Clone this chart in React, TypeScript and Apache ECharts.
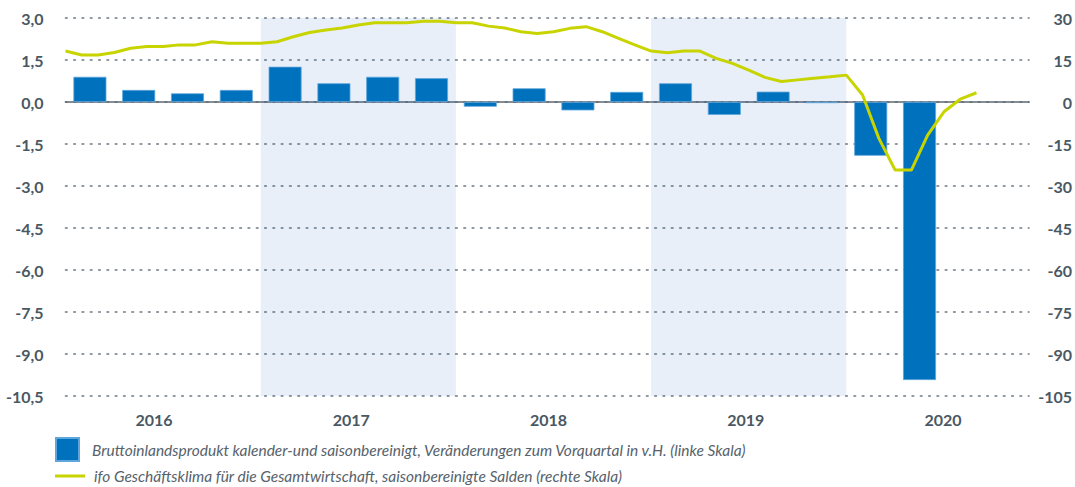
import React, { useEffect, useRef } from "react";
import * as echarts from "echarts";

const yearLabels = ["2016", "2017", "2018", "2019", "2020"];
const shadedYearIdx = [1, 3];
const gdpQuarterly = [
  0.9, 0.43, 0.31, 0.43,
  1.26, 0.67, 0.9, 0.85,
  -0.17, 0.49, -0.3, 0.36,
  0.67, -0.46, 0.37, -0.04,
  -1.92, -9.93,
];
const ifoMonthly = [
  18.2, 16.8, 16.8, 17.7, 19.2, 19.8, 19.8, 20.4, 20.4, 21.5, 21.0, 21.0,
  21.0, 21.5, 23.3, 24.8, 25.7, 26.4, 27.5, 28.3, 28.3, 28.3, 28.8, 28.8,
  28.3, 28.3, 27.1, 26.4, 25.1, 24.5, 25.1, 26.3, 26.9, 25.1, 22.7, 20.4,
  18.2, 17.6, 18.2, 18.2, 15.6, 13.8, 11.4, 8.8, 7.3, 7.9, 8.5, 9.0,
  9.6, 2.5, -13.0, -24.3, -24.3, -11.8, -3.5, 1.0, 3.3,
];
const gdpName =
  "Bruttoinlandsprodukt kalender-und saisonbereinigt, Veränderungen zum Vorquartal in v.H. (linke Skala)";
const ifoName =
  "ifo Geschäftsklima für die Gesamtwirtschaft, saisonbereinigte Salden (rechte Skala)";

const TXT = "#4a5863";
const FONT = "Lato, 'Open Sans', sans-serif";
const BLUE = "#0071bc";
const LIME = "#c8d400";

export default function App() {
  const ref = useRef<HTMLDivElement>(null);
  useEffect(() => {
    if (!ref.current) return;
    const chart = echarts.init(ref.current, null, { renderer: "svg" });
    const barData = gdpQuarterly.map((v, i) => [i * 3 + 1.5, v]);
    const lineData = ifoMonthly.map((v, i) => [i, v]);
    const bands = shadedYearIdx.map((y) => [{ xAxis: y * 12 }, { xAxis: y * 12 + 12 }]);
    const fmt = (v: number) => v.toFixed(1).replace(".", ",");
    const legendText = {
      color: "#57626b",
      fontSize: 15.5,
      fontStyle: "italic",
      fontFamily: FONT,
    };
    chart.setOption({
      animation: false,
      textStyle: { fontFamily: FONT },
      grid: [
        { left: 65.5, right: 45.5, top: 18, bottom: 91, containLabel: false },
        { left: 55.4, right: 33.35, top: 18, bottom: 91, containLabel: false },
      ],
      xAxis: [
        {
          type: "value",
          gridIndex: 0,
          min: 0,
          max: 59.23,
          axisLine: { show: true, onZero: true, lineStyle: { color: "#5d6973", width: 1.5 } },
          axisTick: { show: false },
          axisLabel: { show: false },
          splitLine: { show: false },
        },
        {
          type: "category",
          gridIndex: 1,
          data: yearLabels,
          axisLine: { show: false },
          axisTick: { show: false },
          splitLine: { show: false },
          axisLabel: {
            color: TXT,
            fontSize: 16,
            fontWeight: "bold",
            fontFamily: FONT,
            margin: 15,
          },
        },
      ],
      yAxis: [
        {
          type: "value",
          gridIndex: 0,
          min: -10.5,
          max: 3,
          interval: 1.5,
          axisLine: { show: false },
          axisTick: { show: false },
          axisLabel: {
            formatter: fmt,
            color: TXT,
            fontSize: 16,
            fontWeight: "bold",
            fontFamily: FONT,
            margin: 22,
          },
          splitLine: {
            show: true,
            lineStyle: { color: "#6b7680", width: 1.6, type: [1.6, 6.7], cap: "round" },
          },
        },
        {
          type: "value",
          gridIndex: 0,
          position: "right",
          min: -105,
          max: 30,
          interval: 15,
          axisLine: { show: false },
          axisTick: { show: false },
          axisLabel: {
            color: TXT,
            fontSize: 16,
            fontWeight: "bold",
            fontFamily: FONT,
            align: "right",
            margin: 43,
          },
          splitLine: { show: false },
        },
        { type: "value", gridIndex: 1, show: false, min: 0, max: 1 },
      ],
      legend: [
        {
          show: true,
          left: 55,
          top: 437,
          padding: 0,
          itemWidth: 23,
          itemHeight: 23,
          selectedMode: false,
          textStyle: { ...legendText, padding: [0, 0, 0, 8] },
          data: [{ name: gdpName, icon: "rect", itemStyle: { color: BLUE } }],
        },
        {
          show: true,
          left: 55,
          top: 468,
          padding: 0,
          itemWidth: 30,
          itemHeight: 3,
          selectedMode: false,
          textStyle: { ...legendText, padding: [0, 0, 0, 4] },
          data: [{ name: ifoName, icon: "rect", itemStyle: { color: LIME } }],
        },
      ],
      series: [
        {
          name: gdpName,
          type: "bar",
          xAxisIndex: 0,
          yAxisIndex: 0,
          data: barData,
          barWidth: 33,
          itemStyle: { color: BLUE, borderColor: "#5fa6dc", borderWidth: 0.8 },
          markArea: {
            silent: true,
            itemStyle: { color: "rgba(0,77,177,0.09)" },
            data: bands,
          },
          z: 2,
        },
        {
          name: ifoName,
          type: "line",
          xAxisIndex: 0,
          yAxisIndex: 1,
          data: lineData,
          symbol: "none",
          lineStyle: { color: LIME, width: 3 },
          itemStyle: { color: LIME },
          z: 3,
        },
      ],
    });
    return () => chart.dispose();
  }, []);
  return <div ref={ref} style={{ width: 1075, height: 487, position: "absolute", left: 0, top: 0 }} />;
}
